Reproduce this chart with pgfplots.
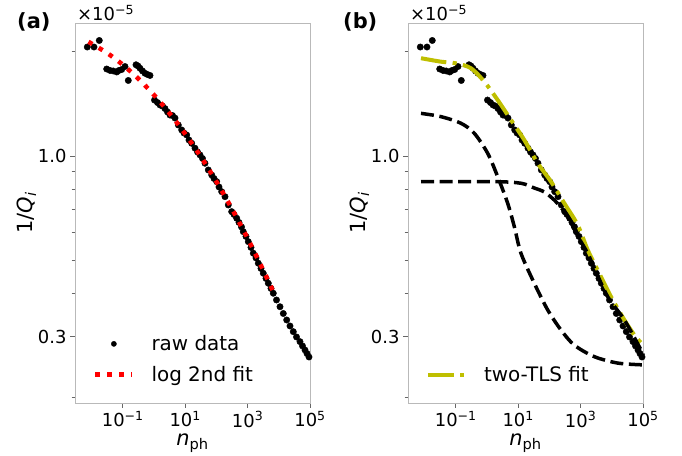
\documentclass[border=0pt]{standalone}
\usepackage{fontspec}
\setmainfont{DejaVu Sans}
\usepackage{pgfplots}
\usepackage{pgfplotstable}
\pgfplotsset{compat=1.18}
\definecolor{olivey}{rgb}{0.75,0.75,0}
\newcommand{\fs}[1]{\fontsize{#1}{#1}\selectfont}

\pgfplotstableread{
x y
0.00728 2.065
0.01194 2.065
0.01765 2.157
0.03048 1.784
0.03888 1.767
0.0496 1.761
0.06375 1.749
0.07553 1.767
0.0922 1.778
0.1176 1.814
0.1501 1.653
0.2649 1.835
0.3071 1.820
0.3558 1.793
0.4279 1.761
0.5148 1.734
0.619 1.720
0.7444 1.709
1.0375 1.451
1.2948 1.427
1.5568 1.404
1.8728 1.394
2.2524 1.371
2.7086 1.340
3.257 1.313
3.9167 1.309
4.711 1.287
6.009 1.229
7.725 1.189
9.153 1.165
11.17 1.150
13.24 1.112
16.16 1.088
20.61 1.053
24.79 1.027
29.82 1.007
35.85 0.9835
43.11 0.9526
55.01 0.9111
70.7 0.8813
83.77 0.8610
102.2 0.8429
121.1 0.8136
147.9 0.7886
188.7 0.7628
240.6 0.7218
309.3 0.6904
366.5 0.6776
447.3 0.6607
530 0.6425
637.5 0.6236
728 0.6043
888.8 0.5853
1053 0.5654
1285 0.5440
1523 0.5234
1858 0.5073
2203 0.4897
2689 0.4730
3185 0.4581
3888 0.4425
4608 0.4286
5623 0.4140
6663 0.4010
8438 0.3835
10927 0.3667
13939 0.3505
17916 0.3357
22856 0.3226
29150 0.3106
36930 0.2998
47810 0.2906
57490 0.2824
69170 0.2749
80140 0.2685
92880 0.2624
}\rawdata

\pgfplotstableread{
x y
0.007943 2.138
0.03162 1.984
0.1 1.835
0.3162 1.672
1 1.501
3.162 1.328
10 1.158
31.62 0.995
100 0.843
316.2 0.703
1000 0.578
3162 0.468
7079 0.4005
}\logfit

\pgfplotstableread{
x y
0.00767 1.917
0.03357 1.873
0.1014 1.853
0.3069 1.793
0.8185 1.640
2.203 1.451
5.875 1.271
15.70 1.112
42.17 0.953
112.5 0.843
300.6 0.730
807.2 0.632
1690 0.535
3972 0.458
9419 0.392
25180 0.336
52600 0.304
100000 0.284
}\tlsfit

\pgfplotstableread{
x y
0.00767 1.328
0.03357 1.299
0.1469 1.243
0.3917 1.163
1.052 1.018
2.203 0.871
4.603 0.730
7.499 0.625
12.30 0.523
32.81 0.4286
88.10 0.359
235.5 0.314
628.1 0.284
2748 0.263
15450 0.252
100000 0.249
}\tlsone

\pgfplotstableread{
x y
0.00767 0.843
1.714 0.843
12.30 0.834
32.81 0.808
68.7 0.787
143.5 0.746
235.5 0.710
386.4 0.668
807.2 0.587
1690 0.523
2748 0.4746
7396 0.392
25180 0.336
86300 0.275
100000 0.266
}\tlstwo

\begin{document}
\begin{tikzpicture}
\useasboundingbox (0,0) rectangle (682bp,456bp);
\begin{axis}[name=A, at={(75bp,53bp)}, anchor=south west,
    width=235bp, height=380bp, scale only axis,
    xmode=log, ymode=log,
    xmin=0.002938, xmax=1e5, ymin=0.1932, ymax=2.423,
    xtick={0.1,10,1000,100000},
    xticklabels={{10\textsuperscript{−1}},{10\textsuperscript{1}},{10\textsuperscript{3}},{10\textsuperscript{5}}},
    ytick={0.3,1.0}, yticklabels={0.3,1.0},
    minor ytick={0.2,0.4,0.5,0.6,0.7,0.8,0.9,2.0},
    xminorticks=false,
    tick align=outside, xtick pos=bottom, ytick pos=left,
    major tick length=5bp, minor tick length=3.5bp,
    axis line style={gray!55, line width=0.8bp},
    tick style={gray!80!black, line width=0.8bp},
    /pgf/number format/assume math mode=true,
    tick label style={font=\fs{18}},
    xlabel style={font=\fs{21}},
    ylabel style={font=\fs{21}, yshift=-5bp},
    xlabel={\textit{n}\textsubscript{ph}},
    ylabel={1/\textit{Q}\textsubscript{\textit{i}}},
    legend style={draw=none, fill=none, font=\fs{20},
      at={(0,0)}, anchor=south west, xshift=15bp, yshift=16bp,
      row sep=10bp},
    legend cell align=left,
    clip=false, clip marker paths=true]
\addplot[only marks, mark=*, mark size=3.2bp, mark options={draw=black, fill=black},
  legend image code/.code={\path[fill=black] (0.65cm,0cm) circle[radius=2.6bp]; \path (0cm,0cm) (1.3cm+15bp,0cm);}] table {\rawdata};
\addlegendentry{raw data}
\addplot[red, line width=4.5bp, dash pattern=on 4.5bp off 7.4bp, smooth,
  legend image code/.code={\draw[red, line width=4.5bp, dash pattern=on 4.5bp off 7.4bp] (0cm,0cm) -- (1.3cm,0cm); \path (0cm,0cm) (1.3cm+15bp,0cm);}] table {\logfit};
\addlegendentry{log 2nd fit}
\end{axis}
\begin{axis}[name=B, at={(408bp,53bp)}, anchor=south west,
    width=235bp, height=380bp, scale only axis,
    xmode=log, ymode=log,
    xmin=0.002938, xmax=1e5, ymin=0.1932, ymax=2.423,
    xtick={0.1,10,1000,100000},
    xticklabels={{10\textsuperscript{−1}},{10\textsuperscript{1}},{10\textsuperscript{3}},{10\textsuperscript{5}}},
    ytick={0.3,1.0}, yticklabels={0.3,1.0},
    minor ytick={0.2,0.4,0.5,0.6,0.7,0.8,0.9,2.0},
    xminorticks=false,
    tick align=outside, xtick pos=bottom, ytick pos=left,
    major tick length=5bp, minor tick length=3.5bp,
    axis line style={gray!55, line width=0.8bp},
    tick style={gray!80!black, line width=0.8bp},
    /pgf/number format/assume math mode=true,
    tick label style={font=\fs{18}},
    xlabel style={font=\fs{21}},
    ylabel style={font=\fs{21}, yshift=-5bp},
    xlabel={\textit{n}\textsubscript{ph}},
    ylabel={1/\textit{Q}\textsubscript{\textit{i}}},
    legend style={draw=none, fill=none, font=\fs{20},
      at={(0,0)}, anchor=south west, xshift=15bp, yshift=16bp,
      row sep=10bp},
    legend cell align=left,
    clip=false, clip marker paths=true]
\addplot[only marks, mark=*, mark size=3.2bp, mark options={draw=black, fill=black}, forget plot] table {\rawdata};
\addplot[olivey, line width=4bp, dash pattern=on 25.6bp off 6.4bp on 4bp off 6.4bp, smooth,
  legend image code/.code={\draw[olivey, line width=4bp, dash pattern=on 25.6bp off 6.4bp on 4bp off 6.4bp] (0cm,0cm) -- (1.3cm,0cm); \path (0cm,0cm) (1.3cm+15bp,0cm);}] table {\tlsfit};
\addlegendentry{two-TLS fit}
\addplot[black, line width=3.5bp, dash pattern=on 13bp off 5.6bp, smooth, forget plot] table {\tlsone};
\addplot[black, line width=3.5bp, dash pattern=on 13bp off 5.6bp, smooth, forget plot] table {\tlstwo};
\end{axis}
\node[anchor=base west, inner sep=0pt, font=\fs{18}] at ([xshift=2bp,yshift=2bp]A.north west) {×10\textsuperscript{−5}};
\node[anchor=base west, inner sep=0pt, font=\fs{18}] at ([xshift=2bp,yshift=2bp]B.north west) {×10\textsuperscript{−5}};
\node[anchor=base west, inner sep=0pt, font=\bfseries\fs{21}] at (17bp,427bp) {(a)};
\node[anchor=base west, inner sep=0pt, font=\bfseries\fs{21}] at (343bp,427bp) {(b)};
\end{tikzpicture}
\end{document}
